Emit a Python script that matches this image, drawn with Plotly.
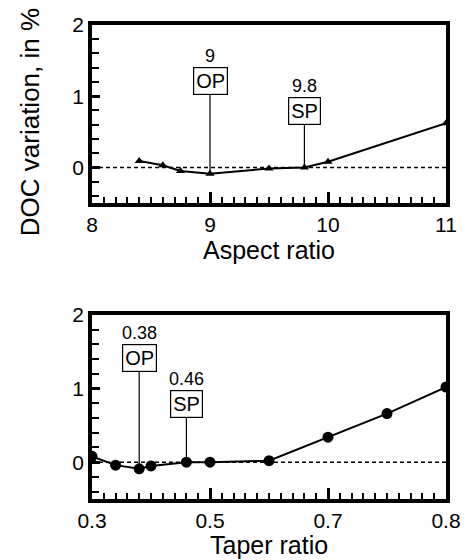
import plotly.graph_objects as go

# ---- data ----
aspect_ratio = [8.4, 8.6, 8.75, 9.0, 9.5, 9.8, 10.0, 11.0]
doc_aspect = [0.09, 0.03, -0.05, -0.09, -0.015, 0.0, 0.08, 0.62]

taper_ratio = [0.3, 0.34, 0.38, 0.4, 0.46, 0.5, 0.6, 0.7, 0.8, 0.9]
doc_taper = [0.08, -0.04, -0.09, -0.05, 0.0, 0.0, 0.02, 0.34, 0.66, 1.02]

aspect_points = [9.0, 9.8]
aspect_point_labels = ["OP", "SP"]
aspect_point_values = ["9", "9.8"]

taper_points = [0.38, 0.46]
taper_point_labels = ["OP", "SP"]
taper_point_values = ["0.38", "0.46"]

aspect_range = [8, 11]
taper_range = [0.3, 0.9]
doc_range = [-0.5, 2]
# last tick label of the taper axis as printed in the figure
taper_labelalias = {"0.9": "0.8"}

FONT = "Liberation Sans, Arial, sans-serif"

fig = go.Figure()

fig.add_trace(go.Scatter(x=aspect_ratio, y=doc_aspect, mode="lines+markers", xaxis="x", yaxis="y",
                         line=dict(color="black", width=2),
                         marker=dict(symbol="triangle-up", size=8, color="black")))
fig.add_trace(go.Scatter(x=taper_ratio, y=doc_taper, mode="lines+markers", xaxis="x2", yaxis="y2",
                         line=dict(color="black", width=2),
                         marker=dict(symbol="circle", size=11, color="black")))

# dashed zero lines
for xr, yr, rng in (("x", "y", aspect_range), ("x2", "y2", taper_range)):
    fig.add_shape(type="line", xref=xr, yref=yr, x0=rng[0], x1=rng[1], y0=0, y1=0,
                  line=dict(color="black", width=1.5, dash="4px,3px"), layer="above")

def y_of(xs, ys, xv):
    return ys[xs.index(xv)]

ays_top = [-93, -56]
ays_bot = [-111, -58]
for pts, labs, vals, xs, ys, ays, xr, yr in (
        (aspect_points, aspect_point_labels, aspect_point_values, aspect_ratio, doc_aspect, ays_top, "x", "y"),
        (taper_points, taper_point_labels, taper_point_values, taper_ratio, doc_taper, ays_bot, "x2", "y2")):
    for p, lab, val, ay in zip(pts, labs, vals, ays):
        yv = y_of(xs, ys, p)
        fig.add_annotation(x=p, y=yv, xref=xr, yref=yr, text=lab, showarrow=True,
                           ax=0, ay=ay, arrowhead=0, arrowwidth=1.2, arrowcolor="black",
                           standoff=0, bordercolor="black", borderwidth=1.2, borderpad=2,
                           bgcolor="white", font=dict(size=20))
        fig.add_annotation(x=p, y=yv, xref=xr, yref=yr, text=val, showarrow=False,
                           yshift=-ay + 25, font=dict(size=18))


def minor(t0, dt, ln):
    return dict(tick0=t0, dtick=dt, ticks="inside", ticklen=ln, tickwidth=1.5, tickcolor="black")

fig.update_layout(
    width=473, height=560, margin=dict(l=92, r=21, t=25, b=61), showlegend=False,
    plot_bgcolor="white",
    font=dict(family=FONT, size=21, color="black"),
    xaxis=dict(domain=[0, 1], anchor="y", range=aspect_range, tick0=8, dtick=1,
               ticks="inside", ticklen=11, tickwidth=3, tickcolor="black",
               showline=True, linecolor="black", linewidth=3.5, mirror=True,
               minor=minor(8, 0.1, 6)),
    yaxis=dict(domain=[0.6245, 1.0], anchor="x", range=doc_range, tick0=0, dtick=1,
               ticks="inside", ticklen=8, tickwidth=3, tickcolor="black",
               showline=True, linecolor="black", linewidth=3.5, mirror=True,
               minor=minor(0, 0.2, 7)),
    xaxis2=dict(domain=[0, 1], anchor="y2", range=taper_range, tick0=0.3, dtick=0.2,
                labelalias=taper_labelalias,
                ticks="inside", ticklen=11, tickwidth=3, tickcolor="black",
                showline=True, linecolor="black", linewidth=3.5, mirror=True,
                minor=minor(0.3, 0.02, 6)),
    yaxis2=dict(domain=[0.0, 0.3882], anchor="x2", range=doc_range, tick0=0, dtick=1,
                ticks="inside", ticklen=8, tickwidth=3, tickcolor="black",
                showline=True, linecolor="black", linewidth=3.5, mirror=True,
                minor=minor(0, 0.2, 7)),
)

# axis titles
fig.add_annotation(xref="paper", yref="paper", x=0.5, y=0.525, text="Aspect ratio",
                   showarrow=False, xanchor="center", yanchor="middle", font=dict(size=25))
fig.add_annotation(xref="paper", yref="paper", x=0.5, y=-0.097, text="Taper ratio",
                   showarrow=False, xanchor="center", yanchor="middle", font=dict(size=25))
fig.add_annotation(xref="paper", yref="paper", x=-0.175, y=0.795, text="DOC variation, in %",
                   textangle=-90, showarrow=False, xanchor="center", yanchor="middle",
                   font=dict(size=26))

fig.write_html("out.html")
